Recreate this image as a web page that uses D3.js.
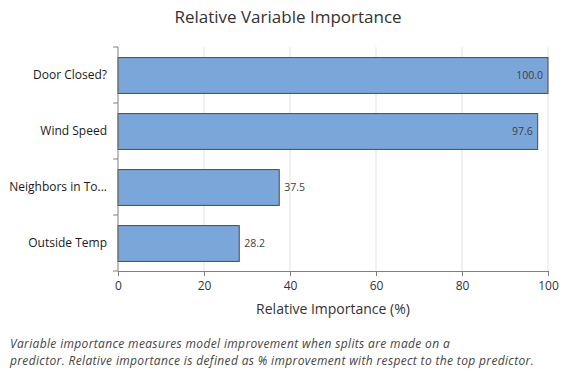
<!DOCTYPE html>
<html><head><meta charset="utf-8">
<script src="https://cdn.jsdelivr.net/npm/d3@7"></script>
<style>body{margin:0;background:#fff}svg{display:block}</style>
</head><body>
<svg id="c" width="576" height="384"></svg>
<script>
const categories = ["Door Closed?", "Wind Speed", "Neighbors in To...", "Outside Temp"];
const values = [100.0, 97.6, 37.5, 28.2];
const xTicks = [0, 20, 40, 60, 80, 100];
const title = "Relative Variable Importance";
const xLabel = "Relative Importance (%)";
const notes = ["Variable importance measures model improvement when splits are made on a",
               "predictor. Relative importance is defined as % improvement with respect to the top predictor."];

const font = "'Open Sans', 'Noto Sans', sans-serif";
const svg = d3.select("#c");
const m = {l: 118, r: 28, t: 47, b: 113};
const W = 576, H = 384;
const x = d3.scaleLinear().domain([0, 100]).range([m.l, W - m.r]);
const y = d3.scaleBand().domain(categories).range([m.t, H - m.b]).paddingInner(0.36).paddingOuter(0.18);

// gridlines
svg.append("g").selectAll("line").data(xTicks.filter(d => d > 0)).join("line")
  .attr("x1", d => x(d)).attr("x2", d => x(d))
  .attr("y1", m.t).attr("y2", H - m.b)
  .attr("stroke", "#e3e3e3").attr("stroke-width", 1);

// bars
svg.append("g").selectAll("rect").data(values).join("rect")
  .attr("x", x(0)).attr("y", (d, i) => y(categories[i]) + 0.5)
  .attr("width", d => x(d) - x(0)).attr("height", y.bandwidth())
  .attr("fill", "#7BA6DA").attr("stroke", "#4a4a4a").attr("stroke-width", 1);

// value labels
svg.append("g").selectAll("text").data(values).join("text")
  .attr("x", d => d > 60 ? x(d) - 5 : x(d) + 5)
  .attr("y", (d, i) => y(categories[i]) + y.bandwidth() / 2 + 0.5)
  .attr("dy", "0.35em")
  .attr("text-anchor", d => d > 60 ? "end" : "start")
  .attr("font-family", font).attr("font-size", 10.5).attr("fill", "#404040")
  .text(d => d.toFixed(1));

// x axis
const xa = svg.append("g").attr("transform", `translate(0,${H - m.b})`)
  .call(d3.axisBottom(x).tickValues(xTicks).tickSize(5).tickPadding(5).tickFormat(d3.format("d")));
xa.select(".domain").attr("stroke", "#808080");
xa.selectAll(".tick line").attr("stroke", "#808080");
xa.selectAll("text").attr("font-family", font).attr("font-size", 12).attr("fill", "#333");

// y axis
const ya = svg.append("g").attr("transform", `translate(${m.l},0)`)
  .call(d3.axisLeft(y).tickSize(0).tickPadding(11));
ya.select(".domain").attr("stroke", "#808080").attr("d", `M0,${m.t}V${H - m.b}`);
ya.selectAll("text").attr("font-family", font).attr("font-size", 12).attr("fill", "#1a1a1a");
// y ticks at band boundaries
const bounds = categories.map(c => y(c) - y.step() * y.paddingInner() / 2);
bounds[0] = m.t;
bounds.push(H - m.b);
ya.append("g").selectAll("line").data(bounds).join("line")
  .attr("x1", -5).attr("x2", 0).attr("y1", d => d).attr("y2", d => d)
  .attr("stroke", "#808080");

// title
svg.append("text").attr("x", 288).attr("y", 23).attr("text-anchor", "middle")
  .attr("font-family", font).attr("font-size", 17).attr("fill", "#333").text(title);

// x label
svg.append("text").attr("x", x(50)).attr("y", 314).attr("text-anchor", "middle")
  .attr("font-family", font).attr("font-size", 14).attr("fill", "#333").text(xLabel);

// notes
svg.append("g").selectAll("text").data(notes).join("text")
  .attr("x", 10).attr("y", (d, i) => 348 + i * 16.5)
  .attr("font-family", font).attr("font-style", "italic").attr("font-size", 12)
  .attr("letter-spacing", 0.35).attr("fill", "#444")
  .text(d => d);
</script>
</body></html>
